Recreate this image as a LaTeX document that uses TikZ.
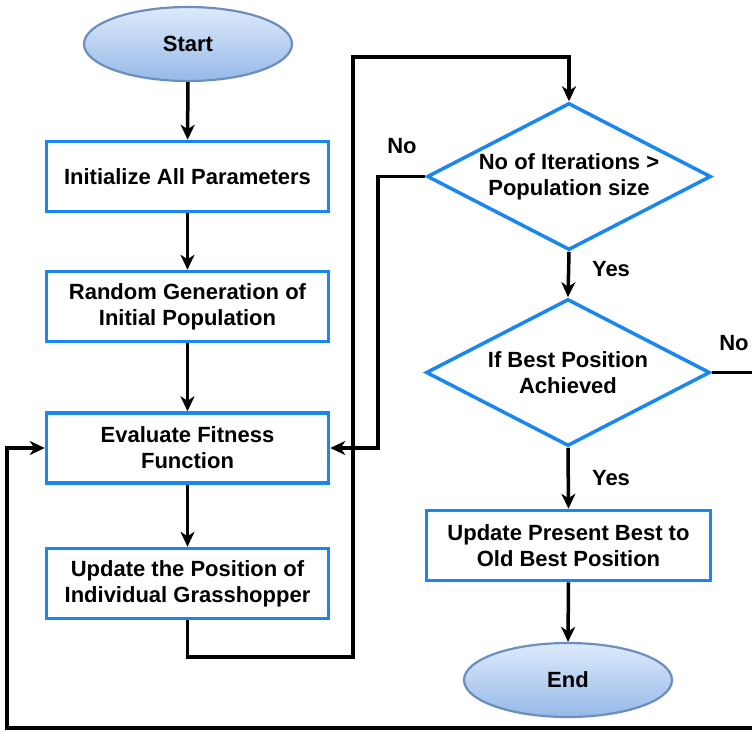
\documentclass[tikz,border=0pt]{standalone}
\usepackage{fontspec}
\setmainfont{Liberation Sans}
\usetikzlibrary{shapes.geometric,arrows.meta}
\definecolor{boxblue}{RGB}{25,135,240}
\definecolor{ovaltop}{RGB}{222,234,251}
\definecolor{ovalbot}{RGB}{150,185,232}
\definecolor{ovalline}{RGB}{108,142,191}
\tikzset{
  every node/.style={font=\bfseries\fontsize{22}{26}\selectfont, align=center},
  procbox/.style={draw=boxblue, line width=3.5pt, fill=white, rectangle,
    minimum width=282pt, minimum height=70pt, inner sep=0pt},
  decision/.style={draw=boxblue, line width=3.5pt, fill=white, diamond,
    shape aspect=1.92, minimum width=284pt, minimum height=147pt, inner sep=0pt},
  terminal/.style={draw=ovalline, line width=2.2pt, ellipse, top color=ovaltop,
    bottom color=ovalbot, minimum width=208pt, minimum height=74pt, inner sep=0pt},
  flow/.style={line width=3.5pt, draw=black},
  arr/.style={flow, -{Stealth[length=15pt,width=14pt,inset=4.5pt]}},
  lbl/.style={inner sep=0pt}
}
\begin{document}
\begin{tikzpicture}[x=1pt, y=-1pt]
  \useasboundingbox (0,0) rectangle (752,731);
  \clip (0,0) rectangle (752,731);
  \fill[white] (0,0) rectangle (752,731);

  % left column
  \node[terminal] (start) at (188,44) {Start};
  \node[procbox] (init) at (187.5,176.5) {Initialize All Parameters};
  \node[procbox] (rand) at (187.5,306.5) {Random Generation of\\Initial Population};
  \node[procbox] (eval) at (187.5,448) {Evaluate Fitness\\Function};
  \node[procbox] (upd) at (187.5,583.5) {Update the Position of\\Individual Grasshopper};

  % right column
  \node[decision] (iter) at (569,176.5) {No of Iterations \textgreater\\Population size};
  \node[decision] (best) at (568,372.5) {If Best Position\\Achieved};
  \node[procbox, minimum width=284pt] (keep) at (568.5,545.5) {Update Present Best to\\Old Best Position};
  \node[terminal] (finish) at (568,680) {End};

  % branch labels
  \node[lbl] (noA) at (402,146) {No};
  \node[lbl] (yesA) at (611,269) {Yes};
  \node[lbl] (noB) at (734,343) {No};
  \node[lbl] (yesB) at (611,478) {Yes};

  % routing points
  \coordinate (u1) at (353,657);
  \coordinate (u2) at (353,57);
  \coordinate (n1) at (378,448);
  \coordinate (r1) at (760,372.5);
  \coordinate (r2) at (760,728);
  \coordinate (r3) at (7,728);

  % main flow
  \draw[arr] (start) -- (init);
  \draw[arr] (init) -- (rand);
  \draw[arr] (rand) -- (eval);
  \draw[arr] (eval) -- (upd);
  \draw[arr] (upd.south) |- (u1) -- (u2) -| (iter.north);
  \draw[arr] (iter.west) -| (n1) -- (eval.east);
  \draw[arr] (iter.south) -- (best.north);
  \draw[arr] (best.south) -- (keep.north);
  \draw[arr] (keep.south) -- (finish.north);
  \draw[arr] (best.east) -- (r1) -- (r2) -- (r3) |- (eval.west);
\end{tikzpicture}
\end{document}
